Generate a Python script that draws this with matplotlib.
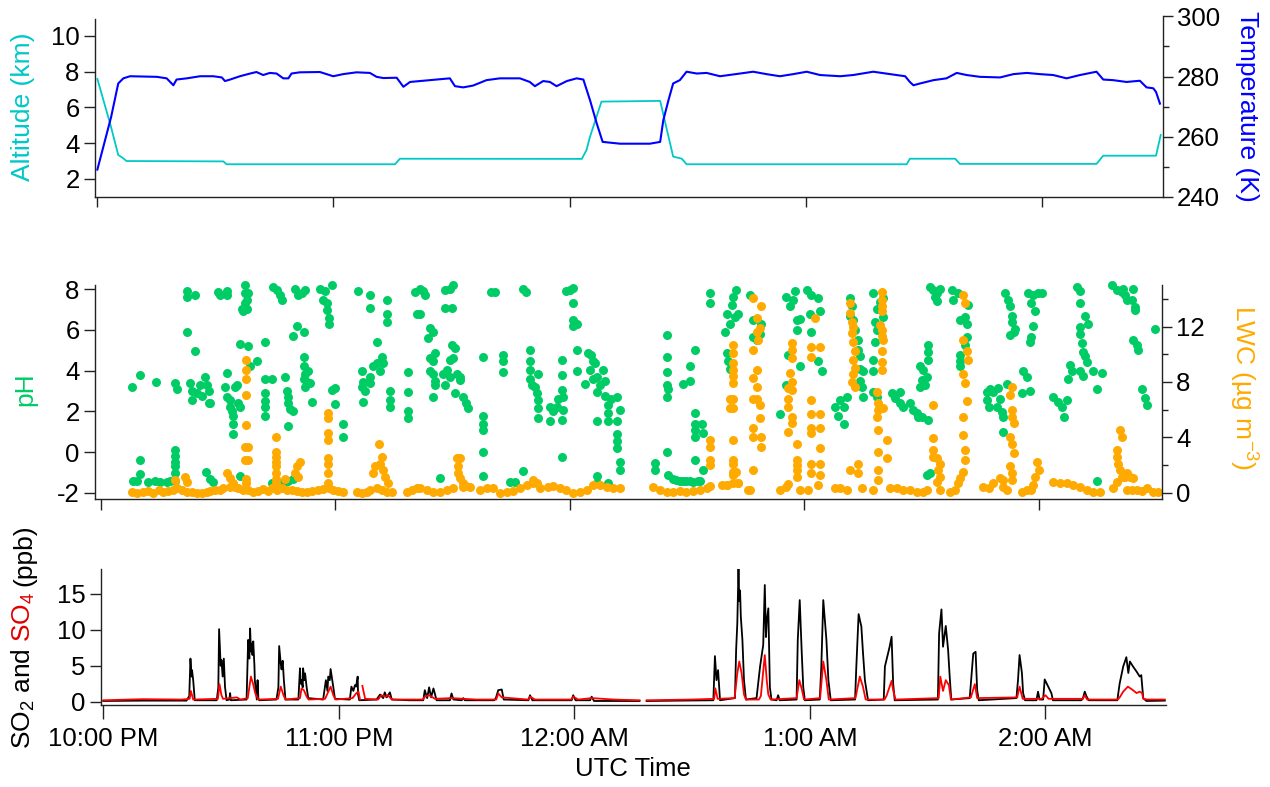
import numpy as np
import matplotlib
matplotlib.use("Agg")
import matplotlib.pyplot as plt

plt.rcParams["font.family"] = ["Liberation Sans", "DejaVu Sans"]
plt.rcParams["font.size"] = 18.5
plt.rcParams["axes.unicode_minus"] = False
plt.rcParams["mathtext.fontset"] = "custom"
plt.rcParams["mathtext.rm"] = "Liberation Sans"
plt.rcParams["mathtext.it"] = "Liberation Sans:italic"
plt.rcParams["mathtext.default"] = "regular"

nan = np.nan

# time axis: minutes after 22:00 UTC
tick_min = [0, 60, 120, 180, 240]
tick_labels = ["10:00 PM", "11:00 PM", "12:00 AM", "1:00 AM", "2:00 AM"]

# ---- top panel: altitude (km) and temperature (K)
alt_t = [0.1, 3.5, 5.4, 6.7, 7.5, 32.1, 32.9, 75.7, 76.9, 123.1, 124.3, 125.2,
         128.1, 143.0, 146.3, 148.5, 149.7, 205.6, 206.4, 217.9, 219.1, 253.8,
         255.5, 268.9, 270.1]
alt_km = [7.59, 4.96, 3.33, 3.14, 2.99, 2.97, 2.81, 2.81, 3.12, 3.11, 3.61, 4.36,
          6.32, 6.36, 3.24, 3.12, 2.81, 2.81, 3.12, 3.12, 2.83, 2.83, 3.29, 3.29,
          4.45]

temp_t = [0.1, 2.5, 3.6, 5.4, 6.7, 8.4, 15.2, 17.7, 19.4, 20.2, 22.8, 26.2, 29.5,
          31.7, 32.5, 33.8, 36.3, 38.9, 40.5, 42.2, 43.9, 45.6, 47.3, 48.6, 49.4,
          51.5, 56.6, 60.0, 62.5, 65.9, 69.3, 71.0, 72.7, 76.1, 77.8, 79.5, 82.0,
          89.6, 90.9, 93.0, 95.5, 98.9, 102.3, 107.4, 109.9, 111.2, 113.3, 115.0,
          116.7, 119.3, 121.8, 123.5, 125.2, 126.9, 128.4, 132.8, 140.4, 143.0,
          143.8, 145.1, 146.3, 148.0, 149.7, 152.3, 154.8, 158.2, 163.3, 166.6,
          170.0, 173.4, 176.8, 180.2, 183.6, 188.7, 192.0, 197.1, 201.4, 205.2,
          206.4, 207.3, 209.0, 212.4, 215.7, 218.3, 220.8, 224.2, 229.3, 232.7,
          236.1, 239.4, 242.8, 246.2, 249.6, 253.8, 255.5, 258.0, 261.4, 264.8,
          266.5, 268.2, 268.9, 269.9]
temp_k = [249.1, 261.1, 266.6, 277.7, 279.4, 280.1, 279.9, 279.4, 277.1, 279.0,
          279.4, 280.1, 280.1, 279.7, 278.5, 279.0, 280.1, 281.0, 281.5, 280.5,
          281.2, 281.0, 279.4, 279.4, 281.0, 281.4, 281.5, 280.1, 280.8, 281.4,
          281.2, 279.9, 279.5, 279.6, 276.6, 278.2, 278.5, 279.4, 276.8, 276.4,
          277.0, 278.8, 279.4, 279.4, 278.2, 276.8, 278.5, 278.2, 276.8, 278.5,
          279.4, 279.0, 272.1, 264.4, 258.3, 257.7, 257.7, 258.3, 265.5, 272.1,
          277.7, 278.8, 281.6, 281.0, 281.2, 280.1, 281.0, 281.6, 280.8, 280.1,
          280.8, 281.6, 280.5, 280.1, 280.5, 281.6, 280.8, 280.1, 278.2, 277.1,
          277.7, 278.8, 279.4, 281.2, 280.5, 279.9, 279.7, 280.8, 281.2, 280.8,
          280.5, 279.4, 280.5, 281.6, 279.0, 278.8, 278.2, 278.6, 276.4, 276.1,
          274.9, 271.0]

# ---- middle panel: cloud water pH (t, pH)
ph_leg1 = [
    (7.9, 3.2), (10.1, 3.8), (14.1, 3.45),
    (8.2, -1.4), (9.2, -1.4), (10.1, -1.1), (10.1, -0.4),
    (12.2, -1.45), (13.9, -1.4), (15.2, -1.45), (16.9, -1.45), (17.7, -1.4),
    (19.0, 0.1), (19.0, -0.2), (19.0, -0.5), (19.0, -0.7), (19.0, -1.05), (19.0, -1.4),
    (19.0, 3.4), (19.4, 3.1),
    (22.0, 7.9), (22.0, 7.6), (24.1, 7.7), (22.0, 5.9), (24.1, 4.95),
    (22.9, 3.4), (23.3, 3.0), (23.3, 2.55), (24.6, 2.9), (25.4, 3.3), (25.8, 2.75),
    (26.7, 3.7), (27.1, 3.3), (27.6, 3.0), (27.6, 2.4), (28.0, 2.4),
    (27.0, -1.0), (28.0, -1.3), (28.8, -1.45),
    (30.1, 7.85), (30.5, 7.7), (32.2, 7.9), (32.2, 7.7),
    (32.2, 3.9), (31.8, 3.2), (32.2, 2.7), (33.1, 2.55), (33.1, 2.2), (33.5, 2.0),
    (33.9, 1.75), (33.9, 1.4), (34.4, 3.2), (34.8, 3.3), (35.2, 2.4), (35.7, 2.2),
    (33.9, 0.9),
    (35.7, 5.3), (36.1, 7.0), (36.5, 6.9), (36.9, 8.2), (36.9, 7.8), (37.4, 7.45),
    (37.8, 7.8), (36.9, 7.3), (37.4, 7.0),
    (37.8, 5.2), (39.9, 4.45), (38.2, 4.2), (35.7, -1.2),
    (42.1, 5.4), (42.1, 3.6), (42.1, 2.9), (42.1, 2.5), (42.1, 2.2), (42.1, 1.75),
    (43.8, 3.6),
    (43.8, -1.5), (45.0, -1.45), (46.0, -1.5), (47.0, -1.45), (48.0, -1.4),
    (44.2, 8.1), (45.0, 7.95), (45.9, 7.7), (46.3, 7.45),
    (47.2, 3.7), (47.6, 3.0), (48.0, 2.7), (48.0, 2.4), (48.5, 2.1), (49.3, 2.0),
    (48.0, 1.3),
    (49.3, 5.7), (50.2, 6.2), (51.9, 5.9),
    (49.7, 8.0), (50.6, 7.7), (51.4, 7.8), (52.3, 7.95), (49.3, -1.3),
    (51.9, 4.65), (51.9, 4.2), (52.3, 3.85), (52.7, 3.45), (53.1, 4.0), (52.3, 3.2),
    (53.6, 3.4), (54.0, 2.45), (51.9, 3.6),
    (56.1, 8.0), (57.4, 7.9), (57.0, 7.45), (57.8, 6.95), (58.3, 6.6), (58.3, 6.3),
    (59.1, 8.2), (57.8, 7.3),
    (59.1, 3.05), (60.0, 3.15), (60.0, 2.35), (62.1, 1.4), (62.1, 0.75),
    (65.9, 7.9), (68.9, 7.7), (68.9, 7.05), (70.6, 5.4), (73.2, 7.45), (73.2, 6.8),
    (73.2, 6.4),
    (66.8, 4.0), (67.2, 3.45), (66.8, 3.2), (67.6, 3.0), (68.9, 3.7), (69.8, 4.2),
    (70.6, 4.35), (71.5, 4.0), (71.9, 4.65), (72.3, 4.35), (67.2, 2.45), (68.9, 3.4),
    (74.0, 3.0), (74.0, 2.55), (74.0, 2.2),
    (78.7, 3.95), (78.7, 2.95), (78.7, 2.0), (78.7, 1.65), (80.4, 7.85), (80.9, 6.8),
]
ph_leg2 = [
    (81.7, 8.0), (83.0, 7.7), (82.6, 7.9), (81.7, 6.8),
    (88.1, 7.95), (89.4, 8.0), (90.2, 8.2), (88.1, 7.05), (89.8, 7.05),
    (84.3, 6.07), (85.1, 5.9), (83.8, 5.6),
    (84.3, 4.6), (85.1, 4.45), (85.5, 4.85), (84.3, 4.0), (85.1, 3.85), (85.5, 3.5),
    (85.1, 2.7), (85.5, 3.3), (88.1, 3.3), (87.7, 3.85),
    (89.8, 5.25), (90.7, 5.1), (89.4, 4.5), (90.2, 4.6), (88.5, 4.05), (89.4, 3.7),
    (91.1, 3.85), (91.9, 3.55), (90.7, 2.9), (91.9, 3.7), (92.8, 2.7), (93.6, 2.4),
    (94.1, 2.15), (86.8, -1.25),
    (97.9, 4.65), (97.9, 1.75), (97.9, 1.4), (97.9, 1.1), (97.9, 0.0), (97.9, -1.2),
    (103.0, 4.75), (103.0, 4.45), (103.0, 3.95), (100.0, 7.87), (100.9, 7.85),
    (104.7, -1.45), (106.0, -1.45), (108.0, 8.0), (108.8, 7.87), (108.0, -0.95),
    (109.9, 5.0), (109.9, 4.45), (109.9, 4.05), (109.9, 3.6), (110.3, 3.3),
    (111.1, 3.2), (111.6, 2.9), (112.0, 2.55), (112.0, 2.15), (112.0, 1.65),
    (112.0, 3.85),
    (115.0, 2.2), (115.0, 1.5), (115.8, 2.0), (116.7, 2.2), (117.1, 2.6),
    (118.4, 2.7), (118.0, 1.55), (118.4, 2.05),
    (118.0, 4.5), (118.0, 3.8), (118.0, 3.05), (118.0, -0.25),
    (119.2, 7.9), (120.1, 7.95), (120.9, 8.05), (120.9, 7.3), (120.9, 6.5),
    (120.9, 6.2), (121.8, 6.3), (121.8, 5.0), (121.8, 4.0),
    (123.9, 3.35), (124.8, 4.85), (125.6, 4.75), (126.1, 4.45), (125.2, 4.05),
    (126.1, 3.6), (126.9, 3.7), (126.9, 2.95), (127.8, 3.3), (128.6, 4.05),
    (129.0, 3.5), (129.0, 2.75), (126.5, 4.35),
    (126.9, 1.5), (126.9, -1.2), (126.9, -1.5), (129.9, -1.5),
    (129.9, 2.3), (129.9, 1.9), (129.9, 1.5), (130.7, 2.6), (132.0, 2.7),
    (132.0, 1.5), (132.0, 0.9), (132.0, 0.55), (132.0, 0.2), (132.9, 2.05),
    (132.9, -0.5), (132.9, -0.9),
    (141.8, -0.55), (141.8, -0.9),
    (144.8, 5.75), (144.8, 4.65), (144.8, 3.95), (144.8, 3.3), (145.2, 3.1),
    (144.8, 2.7), (144.8, 0.0),
    (145.2, -1.15), (146.5, -1.3), (147.3, -1.35), (148.2, -1.4), (149.0, -1.4),
    (149.9, -1.4), (150.8, -1.4), (151.6, -1.45), (152.9, -1.4), (153.4, -1.4),
    (154.2, -0.9),
    (149.1, 3.35), (150.8, 3.5), (150.8, 4.2), (152.1, 5.0),
    (152.1, 1.9), (152.1, 1.4), (152.1, 1.1), (152.1, 0.75), (153.8, 1.4),
    (154.2, 0.95), (152.1, -0.4),
    (155.9, 7.8), (155.9, 7.3),
    (160.2, 6.8), (159.7, 5.9), (161.0, 6.3), (161.5, 7.2), (161.9, 7.6),
    (162.7, 7.95), (163.2, 6.8), (162.3, 6.65), (160.2, 4.85), (161.0, 4.1),
    (160.6, 4.45),
    (166.1, 7.7), (167.0, 6.5), (167.0, 5.65), (167.9, 5.5), (168.7, 5.8),
    (169.1, 6.3),
    (173.8, 1.85), (175.5, 3.3),
    (175.5, 7.6), (176.4, 7.15), (177.7, 7.9), (177.2, 7.45), (178.1, 6.5),
    (178.1, 6.0), (175.9, 4.75), (178.9, 4.2), (178.9, 6.55),
    (180.7, 7.95), (181.9, 7.7), (183.6, 7.55), (181.5, 6.8), (184.1, 6.9),
    (181.9, 5.9), (183.6, 4.45), (184.5, 4.0),
    (187.9, 2.2), (188.8, 1.75),
]
ph_leg3 = [
    (189.2, 2.55), (190.1, 2.2), (190.9, 2.7), (190.1, 1.4),
    (191.8, 7.55), (192.2, 7.15), (191.8, 6.7), (192.6, 6.5),
    (193.0, 6.0), (193.9, 5.5), (193.9, 5.0), (194.3, 4.7), (194.3, 4.1),
    (194.7, 3.2), (195.2, 2.7), (195.2, 4.0), (194.3, 3.5),
    (197.7, 7.8), (198.6, 7.0), (198.2, 6.4), (198.6, 6.0), (198.2, 5.4),
    (197.7, 4.5), (197.7, 4.0), (199.4, 7.35), (200.3, 7.55), (200.3, 6.65),
    (197.7, 2.95), (198.6, 2.7),
    (202.4, 2.9), (203.3, 2.65), (204.6, 2.95), (204.6, 2.4), (205.4, 2.2),
    (207.1, 2.4), (208.0, 2.05), (208.8, 1.9), (209.2, 1.7), (210.1, 1.7),
    (211.8, 1.55),
    (209.7, 4.2), (210.5, 4.05), (210.1, 3.55), (209.7, 3.2), (210.9, 3.3),
    (211.4, 3.7), (211.8, 5.25), (211.8, 4.9), (211.8, 4.5),
    (211.4, -1.15), (212.2, -1.05),
    (212.2, 8.1), (213.1, 7.95), (213.9, 7.8), (213.9, 7.4), (214.8, 8.0),
    (213.5, 7.6),
    (217.8, 7.95), (218.2, 7.45), (219.5, 7.8),
    (219.9, 6.5), (219.9, 4.75), (219.9, 4.45), (219.9, 4.2), (221.2, 6.65),
    (222.0, 7.2), (221.6, 6.3), (221.6, 5.65), (221.2, 5.25),
    (226.7, 2.95), (226.7, 2.55), (227.2, 2.2), (227.6, 3.1), (228.4, 2.95),
    (229.3, 2.2), (229.7, 3.15), (230.1, 2.6), (230.6, 1.95), (231.0, 1.7),
    (231.0, 1.0), (231.9, 3.35),
    (231.4, 7.8), (232.3, 7.45), (232.7, 7.15), (233.1, 6.7), (233.1, 6.4),
    (233.6, 5.9), (232.7, 5.75), (234.0, 6.05),
    (236.1, 4.0), (237.0, 3.7), (235.7, 2.9), (237.8, 3.0),
    (237.4, 7.8), (238.7, 7.7), (239.9, 7.8), (240.8, 7.8), (238.2, 7.3),
    (239.1, 6.9), (238.7, 6.2), (238.2, 5.65), (237.8, 5.4),
    (243.8, 2.7), (245.1, 2.45), (245.9, 2.2), (246.4, 1.7), (247.2, 2.55),
    (247.6, 3.6), (248.1, 4.25), (248.5, 4.0),
    (249.8, 8.1), (250.6, 7.9), (250.6, 7.3), (251.9, 6.7), (252.7, 6.3),
    (250.6, 6.15), (250.6, 5.8), (251.0, 5.35), (251.5, 4.9), (251.9, 4.7),
    (252.3, 4.4), (250.6, 4.0), (251.5, 3.75), (254.0, 4.0), (254.9, 3.1),
    (256.2, 3.9), (254.9, -1.4),
    (258.7, 8.2), (260.0, 7.95), (261.3, 7.85), (262.1, 7.7), (262.6, 7.45),
    (263.8, 7.45), (264.7, 7.1), (264.7, 6.95), (261.7, 8.0), (264.3, 8.0),
    (264.3, 5.5), (265.5, 5.0), (265.1, 5.25),
    (266.4, 3.1), (267.3, 2.65), (267.7, 2.3), (269.8, 6.05),
]

# ---- middle panel: liquid water content (t, ug m-3)
lwc_base = [
    (7.9, 0.07), (9.2, 0.0), (10.9, 0.07), (12.2, 0.14), (13.5, 0.0), (14.8, 0.19),
    (16.0, 0.07), (17.3, 0.14), (18.6, 0.19), (19.4, 0.31), (20.7, 0.19),
    (22.0, 0.07), (23.3, 0.07), (24.6, 0.0), (25.8, 0.0), (27.1, 0.07), (28.0, 0.14),
    (29.3, 0.19), (30.5, 0.19), (31.4, 0.31), (33.1, 0.43), (34.4, 0.43),
    (35.2, 0.31), (36.5, 0.19), (37.8, 0.19), (39.1, 0.07), (40.3, 0.14),
    (41.6, 0.24), (42.9, 0.14), (43.8, 0.31), (45.0, 0.19), (46.3, 0.31),
    (47.6, 0.19), (48.9, 0.19), (50.2, 0.14), (51.4, 0.07), (52.7, 0.07),
    (54.0, 0.14), (55.7, 0.19), (57.0, 0.24), (58.3, 0.31), (59.5, 0.19),
    (60.8, 0.14), (62.1, 0.07), (65.5, 0.07), (66.8, 0.0), (68.1, 0.07),
    (68.9, 0.19), (70.6, 0.31), (71.9, 0.19), (73.2, 0.07), (74.5, 0.07),
    (78.3, 0.07), (79.6, 0.19), (80.9, 0.31),
    (81.7, 0.31), (83.4, 0.19), (85.1, 0.07), (86.8, 0.07), (88.5, 0.19),
    (90.2, 0.31), (92.8, 0.43), (94.5, 0.43), (97.1, 0.19), (98.8, 0.31),
    (100.5, 0.31), (102.2, 0.0), (103.9, 0.07), (105.6, 0.14), (107.3, 0.31),
    (109.0, 0.55), (110.7, 0.67), (112.4, 0.31), (114.5, 0.43), (115.8, 0.48),
    (117.5, 0.31), (119.2, 0.19), (120.9, 0.0), (122.6, 0.07), (124.4, 0.19),
    (126.1, 0.55), (127.8, 0.55), (129.5, 0.43), (131.2, 0.31), (132.9, 0.31),
    (141.4, 0.43), (143.1, 0.19), (144.8, 0.07), (146.5, 0.07), (148.2, 0.14),
    (149.9, 0.07), (151.6, 0.14), (153.4, 0.19), (155.1, 0.31), (158.9, 0.55),
    (160.2, 0.55), (163.2, 0.67), (165.7, 0.19), (173.8, 0.19), (175.5, 0.43),
    (178.9, 0.19), (181.1, 0.19), (187.9, 0.31),
    (189.2, 0.31), (190.9, 0.19), (194.7, 0.31), (197.7, 0.19), (202.0, 0.31),
    (203.7, 0.31), (205.4, 0.19), (207.1, 0.19), (208.8, 0.07), (210.5, 0.07),
    (211.4, 0.19), (214.8, 0.19), (217.3, 0.07), (218.6, 0.19), (225.9, 0.43),
    (227.2, 0.31), (228.4, 0.67), (230.1, 1.05), (231.0, 0.9), (231.0, 0.43),
    (231.9, 0.19), (235.7, 0.07), (237.0, 0.19), (238.2, 0.19), (243.8, 0.8),
    (245.5, 0.67), (247.2, 0.67), (248.9, 0.55), (250.6, 0.43), (252.3, 0.19),
    (254.0, 0.07), (255.7, 0.07), (259.1, 0.31), (262.6, 0.19), (263.8, 0.19),
    (265.1, 0.19), (266.4, 0.14), (267.7, 0.31), (269.4, 0.07), (270.7, 0.07),
]
lwc_leg1 = [
    (19.0, 0.9), (21.6, 1.15), (22.0, 0.8), (32.2, 1.4), (33.1, 1.05), (33.9, 0.7),
    (37.2, 9.6), (37.2, 8.85), (37.2, 8.2), (37.2, 7.05), (37.2, 4.9), (36.9, 3.3),
    (37.8, 3.3), (36.9, 2.35), (37.8, 2.35), (37.2, 1.0), (37.2, 0.7),
    (44.9, 4.05), (44.9, 2.95), (44.9, 2.6), (44.9, 2.25), (44.9, 1.9), (44.9, 1.4),
    (44.9, 1.0), (44.9, 0.7),
    (47.2, 1.0), (49.7, 1.4), (50.2, 1.9), (51.0, 2.25), (50.6, 1.15),
    (58.1, 5.75), (58.1, 5.4), (58.1, 4.3), (58.1, 3.8), (58.1, 2.5), (58.1, 2.1),
    (58.1, 1.4), (58.1, 0.7),
    (71.1, 3.55), (71.9, 2.6), (70.2, 1.9), (69.8, 1.4), (71.5, 2.1), (72.3, 1.65),
    (72.8, 1.15), (73.6, 0.7),
]
lwc_leg2 = [
    (91.1, 2.5), (91.9, 2.5), (91.5, 1.9), (91.5, 1.4), (91.9, 1.05), (92.8, 0.7),
    (93.6, 0.45), (110.7, 0.9), (111.6, 0.7),
    (155.9, 3.8), (155.9, 3.3), (155.9, 2.35), (155.9, 2.0), (155.9, 0.45),
    (161.9, 10.7), (161.9, 10.1), (161.9, 9.35), (161.9, 8.85), (161.9, 8.4),
    (161.9, 7.9), (161.9, 6.8), (161.1, 6.8), (161.9, 6.1), (161.1, 6.1),
    (161.9, 3.8), (161.9, 2.35), (161.9, 2.1), (161.9, 1.5), (161.9, 1.3),
    (161.9, 0.7), (160.2, 0.55), (162.7, 1.5), (163.2, 0.7), (166.1, 0.19),
    (167.0, 14.05), (169.1, 13.5), (167.9, 12.6), (168.7, 11.9), (167.9, 11.6),
    (168.3, 11.05), (167.0, 10.3), (167.9, 8.85), (167.0, 8.25), (167.9, 7.65),
    (167.0, 6.8), (167.9, 6.8), (168.7, 6.35), (167.0, 4.65), (168.7, 5.4),
    (167.0, 4.05), (169.1, 4.05), (169.1, 3.3), (167.0, 1.65),
    (176.8, 10.8), (176.8, 10.3), (176.8, 9.7), (176.4, 8.65), (176.8, 8.0),
    (175.9, 7.55), (176.8, 7.4), (175.9, 6.8), (175.9, 6.2), (176.8, 5.5),
    (176.8, 5.0), (175.9, 4.4), (178.1, 3.55), (178.1, 2.35), (178.1, 2.0),
    (178.1, 1.65), (178.1, 1.15), (175.9, 0.65),
    (182.8, 12.6), (181.9, 10.55), (184.1, 10.55), (181.9, 9.8), (181.9, 6.7),
    (181.9, 5.7), (184.1, 5.7), (181.9, 4.65), (184.1, 4.65), (181.9, 4.3),
    (184.1, 3.2), (181.9, 2.1), (184.1, 2.1), (181.9, 1.4), (184.1, 1.3),
    (183.6, 0.55),
]
lwc_leg3 = [
    (191.8, 13.7), (191.8, 12.95), (192.2, 12.35), (192.6, 12.0), (192.2, 11.5),
    (192.6, 10.9), (193.0, 10.2), (192.6, 9.6), (193.0, 9.0), (192.6, 8.6),
    (192.2, 8.0), (193.0, 7.65), (191.8, 1.65), (193.9, 1.4), (193.9, 2.1),
    (199.9, 14.5), (199.9, 13.9), (199.9, 13.45), (199.9, 13.1), (199.4, 12.1),
    (199.9, 11.75), (199.9, 11.3), (200.3, 11.0), (199.9, 10.2), (199.9, 9.45),
    (199.9, 8.85), (198.6, 7.3), (199.0, 6.45), (199.0, 5.95), (198.6, 5.5),
    (200.3, 6.1), (199.0, 4.55), (201.1, 3.8), (199.0, 2.95), (199.0, 1.65),
    (199.0, 0.9), (201.1, 2.5),
    (213.1, 6.35), (213.1, 3.95), (213.1, 3.1), (213.1, 2.6), (213.9, 2.5),
    (214.8, 2.1), (214.4, 1.65), (214.8, 1.15), (213.9, 0.8),
    (220.8, 14.3), (221.2, 13.7), (220.8, 11.05), (221.6, 10.2), (222.0, 9.6),
    (220.8, 8.6), (221.2, 7.9), (221.6, 6.6), (220.8, 5.5), (220.8, 4.15),
    (221.2, 3.1), (221.2, 2.35), (220.8, 1.5), (219.9, 1.05), (219.5, 0.7),
    (233.1, 7.65), (232.7, 7.05), (233.1, 6.0), (233.1, 5.5), (233.6, 5.0),
    (232.7, 4.05), (233.1, 3.55), (233.6, 2.85), (232.7, 1.9), (233.1, 1.4),
    (233.1, 0.9),
    (239.5, 2.25), (240.0, 1.65), (239.1, 1.15), (238.7, 0.55),
    (260.9, 4.55), (261.3, 4.05), (260.0, 3.1), (260.0, 2.6), (260.4, 2.1),
    (260.9, 1.65), (261.3, 1.15), (262.1, 1.15), (262.6, 1.4), (260.0, 0.8),
    (263.4, 1.15), (264.3, 1.05),
]

# ---- bottom panel: SO2 and SO4 (t, ppb)
so2 = [
    (0.0, 0.1), (10.0, 0.15), (21.2, 0.15), (21.9, 0.8), (22.2, 6.0), (22.5, 3.5),
    (22.6, 4.4), (22.9, 3.0), (23.3, 0.2),
    (28.9, 0.2), (29.3, 2.0), (29.5, 10.1), (29.9, 5.0), (30.1, 5.8), (30.4, 3.5),
    (30.7, 6.0), (31.0, 2.1), (31.4, 0.2), (32.1, 0.3), (32.3, 1.2), (32.5, 0.2),
    (36.5, 0.3), (36.9, 8.6), (37.2, 6.0), (37.4, 10.2), (37.6, 7.0), (37.8, 8.1),
    (38.0, 6.5), (38.2, 8.4), (38.5, 5.0), (38.6, 3.0), (39.1, 0.3), (39.3, 3.0),
    (39.5, 0.5), (39.7, 0.2),
    (44.1, 0.3), (44.6, 2.0), (44.8, 7.75), (45.2, 5.3), (45.4, 4.5), (45.7, 5.7),
    (46.0, 3.0), (46.4, 0.3),
    (49.7, 0.3), (50.1, 4.65), (50.3, 2.5), (50.5, 3.0), (50.8, 2.0), (50.9, 4.65),
    (51.2, 3.0), (51.4, 3.95), (51.8, 2.0), (52.2, 0.5),
    (56.0, 0.3), (56.7, 3.0), (57.1, 1.5), (57.3, 3.5), (57.7, 3.0), (57.9, 4.55),
    (58.2, 3.5), (58.6, 2.0), (59.0, 0.4),
    (62.8, 0.3), (63.2, 2.1), (63.7, 1.5), (64.1, 2.3), (64.4, 2.1), (64.8, 3.5),
    (64.9, 1.0), (65.2, 0.2),
    (69.6, 0.3), (70.5, 1.0), (71.3, 0.5), (71.7, 1.3), (72.2, 0.6), (73.0, 1.3),
    (73.5, 0.3),
    (78.0, 0.2), (81.5, 0.2), (81.9, 1.6), (82.5, 0.5), (83.0, 2.0), (83.5, 0.6),
    (84.1, 1.85), (84.9, 0.2), (88.3, 0.2), (88.7, 1.15), (89.2, 0.3), (91.3, 0.2),
    (91.7, 0.5), (92.1, 0.2), (95.0, 0.2),
    (99.6, 0.2), (100.0, 0.5), (100.6, 1.6), (101.5, 1.7), (102.0, 0.3),
    (108.3, 0.2), (108.7, 0.9), (109.3, 0.2), (119.3, 0.2), (119.7, 0.9),
    (120.3, 0.2), (124.0, 0.2), (124.4, 0.7), (125.0, 0.1),
    (136.6, 0.1), (137.5, nan), (138.4, 0.1),
    (155.4, 0.2), (155.8, 6.35), (156.2, 3.0), (156.6, 4.4), (157.1, 0.2),
    (160.9, 0.5), (161.2, 7.2), (161.5, 10.9), (161.8, 18.5), (162.0, 14.0),
    (162.2, 15.5), (162.4, 11.8), (162.8, 8.6), (163.2, 3.0), (163.7, 0.3),
    (166.4, 0.5), (167.3, 4.9), (168.1, 7.9), (168.5, 16.25), (168.8, 9.0),
    (169.0, 11.15), (169.4, 13.0), (169.8, 2.0), (170.2, 0.3), (171.5, 0.2),
    (171.9, 0.9), (172.3, 0.2),
    (176.6, 0.3), (176.9, 8.6), (177.4, 14.15), (177.9, 7.0), (178.3, 2.0),
    (178.7, 0.2),
    (182.5, 0.3), (182.9, 4.9), (183.4, 14.15), (183.8, 11.4), (184.2, 8.6),
    (184.7, 3.0), (185.3, 0.2),
    (191.5, 0.3), (191.8, 4.65), (192.4, 12.2), (193.1, 10.45), (193.5, 6.95),
    (194.0, 3.0), (194.8, 0.2),
    (198.8, 0.3), (199.1, 4.9), (200.3, 7.65), (200.8, 9.05), (201.2, 2.5),
    (201.6, 0.2),
    (212.6, 0.3), (212.9, 9.5), (213.5, 12.85), (213.9, 7.65), (214.6, 10.55),
    (215.2, 7.2), (215.6, 3.5), (216.0, 0.3),
    (220.7, 0.5), (221.6, 6.7), (222.2, 6.95), (222.6, 1.6), (223.0, 0.2),
    (232.6, 0.5), (233.0, 3.0), (233.4, 6.5), (234.0, 4.0), (234.3, 1.2),
    (234.8, 0.2),
    (237.7, 0.2), (238.1, 1.4), (238.5, 0.3), (239.4, 0.3), (239.8, 3.1),
    (240.7, 2.1), (241.5, 1.2), (241.9, 0.2),
    (249.1, 0.2), (249.5, 0.4), (250.0, 1.4), (250.4, 0.8), (251.0, 0.2),
    (258.3, 0.2), (258.9, 2.55), (259.8, 4.9), (260.6, 6.2), (261.1, 4.0),
    (261.5, 5.6), (262.3, 4.9), (263.2, 4.2), (264.0, 3.5), (264.4, 3.7),
    (264.9, 0.5), (265.7, 0.1), (270.4, 0.15),
]
so4 = [
    (0.0, 0.2), (10.0, 0.35), (20.0, 0.3), (22.0, 0.4), (22.3, 1.5), (22.9, 0.3),
    (29.2, 0.4), (29.6, 2.45), (30.1, 0.9), (30.5, 0.4), (34.0, 0.6), (35.0, 0.3),
    (36.8, 0.5), (37.6, 3.5), (38.2, 2.4), (38.7, 1.2), (39.1, 0.7), (39.6, 0.3),
    (44.5, 0.4), (45.2, 2.1), (45.9, 0.9), (46.4, 0.3),
    (50.1, 0.5), (50.5, 1.85), (51.1, 1.6), (51.8, 0.7), (52.3, 0.3),
    (56.5, 0.4), (57.9, 2.1), (58.6, 0.9), (59.2, 0.3),
    (63.5, 0.5), (64.4, 1.15), (65.0, 1.4), (65.4, 0.3), (65.7, nan),
    (66.0, 2.2), (66.7, 0.4), (70.0, 0.3), (70.8, 0.9), (72.0, 0.7), (72.5, 0.9),
    (73.5, 0.3),
    (81.4, 0.3), (81.9, 0.7), (83.0, 0.9), (84.5, 0.4), (88.7, 0.5), (95.0, 0.3),
    (100.1, 0.3), (100.6, 1.15), (101.5, 0.6), (108.2, 0.3), (108.7, 0.7),
    (110.0, 0.3), (119.2, 0.3), (119.7, 0.7), (121.0, 0.3),
    (124.4, 0.5), (130.0, 0.3), (136.6, 0.2), (137.5, nan), (138.4, 0.2),
    (150.0, 0.3), (155.6, 0.4), (155.9, 1.85), (156.5, 0.4),
    (160.8, 0.5), (161.5, 3.95), (162.0, 5.6), (162.6, 3.95), (163.2, 1.0),
    (163.7, 0.3), (167.0, 0.3), (167.5, 0.8), (168.5, 6.5), (169.0, 3.0),
    (169.4, 1.0), (170.0, 0.3), (176.6, 0.5), (177.3, 3.0), (177.9, 1.8),
    (178.5, 0.3), (182.6, 0.5), (183.4, 5.6), (184.2, 3.0), (184.8, 0.3),
    (191.6, 0.5), (192.7, 3.5), (193.5, 2.1), (194.2, 0.3),
    (199.0, 0.3), (199.5, 0.8), (200.8, 2.9), (201.2, 1.6), (201.8, 0.3),
    (212.8, 0.5), (213.2, 3.5), (213.9, 1.5), (214.6, 3.0), (215.4, 2.3),
    (215.9, 0.3), (221.0, 0.6), (222.0, 2.45), (222.6, 0.5),
    (232.8, 0.6), (233.4, 2.1), (234.2, 0.4), (239.0, 0.4), (240.0, 0.9),
    (240.8, 0.4), (249.5, 0.4), (250.0, 0.9), (250.6, 0.3),
    (258.4, 0.3), (258.9, 0.6), (259.8, 1.4), (261.0, 2.1), (262.3, 1.6),
    (263.2, 1.2), (264.0, 1.4), (264.6, 1.2), (264.9, 0.4), (266.0, 0.3),
    (270.4, 0.3),
]

c_alt = "#00C8C8"
c_temp = "#0000FF"
c_ph = "#00CC66"
c_lwc = "#FFAA00"
c_axis = "#222222"

W, H = 1270, 787
fig = plt.figure(figsize=(W / 100, H / 100), dpi=100)


def px_axes(left, top, right, bottom):
    return fig.add_axes([left / W, 1 - bottom / H, (right - left) / W, (bottom - top) / H])


def style(ax, sides):
    for s in ["top", "left", "right", "bottom"]:
        ax.spines[s].set_visible(s in sides)
        ax.spines[s].set_color(c_axis)
        ax.spines[s].set_linewidth(1.0)
    ax.tick_params(which="major", length=8, width=1.0, color=c_axis, pad=3)
    ax.tick_params(which="minor", length=4, width=1.0, color=c_axis)


# top panel
ax1 = px_axes(95, 16.3, 1162.7, 197)
ax1.plot(alt_t, alt_km, color=c_alt, lw=1.3)
ax1.set_xlim(-0.5, 270.6)
ax1.set_ylim(0.975, 11.1)
ax1.set_yticks([2, 4, 6, 8, 10])
ax1.set_xticks(tick_min)
ax1.set_xticklabels([])
style(ax1, ["left", "bottom"])
ax1.spines["left"].set_bounds(0.975, 10.95)
ax1.tick_params(axis="x", length=7.5)
ax1t = ax1.twinx()
ax1t.plot(temp_t, temp_k, color=c_temp, lw=1.5)
ax1t.set_ylim(240, 300)
ax1t.set_yticks([240, 260, 280, 300])
ax1t.set_yticks([250, 270, 290], minor=True)
style(ax1t, ["right"])
ax1t.tick_params(which="major", length=7)

# middle panel
ax2 = px_axes(95, 285, 1162, 499.3)
pt, pv = zip(*(ph_leg1 + ph_leg2 + ph_leg3))
ax2.scatter(pt, pv, s=42, color=c_ph, linewidths=0, clip_on=False)
ax2.set_xlim(-1.46, 271.6)
ax2.set_ylim(-2.32, 8.2)
ax2.set_yticks([-2, 0, 2, 4, 6, 8])
ax2.set_xticks(tick_min)
ax2.set_xticklabels([])
style(ax2, ["left", "bottom"])
ax2.tick_params(axis="x", length=8)
ax2t = ax2.twinx()
lt, lv = zip(*(lwc_base + lwc_leg1 + lwc_leg2 + lwc_leg3))
ax2t.scatter(lt, lv, s=42, color=c_lwc, linewidths=0, clip_on=False)
ax2t.set_ylim(-0.48, 15.0)
ax2t.set_yticks([0, 4, 8, 12])
ax2t.set_yticks([2, 6, 10, 14], minor=True)
style(ax2t, ["right"])
ax2t.tick_params(which="major", length=7)

# bottom panel
ax3 = px_axes(100.7, 569, 1166, 705)
st, sv = zip(*so2)
ax3.plot(st, sv, color="black", lw=1.3)
qt, qv = zip(*so4)
ax3.plot(qt, qv, color="#FF0000", lw=1.3)
ax3.set_xlim(-0.66, 270.7)
ax3.set_ylim(-0.46, 18.48)
ax3.set_yticks([0, 5, 10, 15])
ax3.set_xticks(tick_min)
ax3.set_xticklabels(tick_labels)
style(ax3, ["left", "bottom"])
ax3.tick_params(axis="x", length=10, pad=6)
ax3.set_xlabel("UTC Time", labelpad=4)

# axis titles
fig.text(23 / W, 1 - 107 / H, "Altitude (km)", rotation=90, ha="center", va="center",
         color=c_alt, fontsize=19)
fig.text(1247 / W, 1 - 106 / H, "Temperature (K)", rotation=270, ha="center",
         va="center", color=c_temp, fontsize=19)
fig.text(25 / W, 1 - 389 / H, "pH", rotation=90, ha="center", va="center",
         color=c_ph, fontsize=19)
fig.text(1243 / W, 1 - 388 / H, "LWC (µg m$^{-3}$)", rotation=270, ha="center",
         va="center", color=c_lwc, fontsize=19)

renderer = fig.canvas.get_renderer()
y_px = H - 749
for piece, col in [("SO$_2$ and", "black"), ("SO$_4$", "#E00000"), ("(ppb)", "black")]:
    t = fig.text(31 / W, y_px / H, piece, rotation=90, rotation_mode="anchor",
                 ha="left", va="baseline", color=col, fontsize=19)
    y_px += t.get_window_extent(renderer).height + 6

fig.savefig("out.png", dpi=100)
